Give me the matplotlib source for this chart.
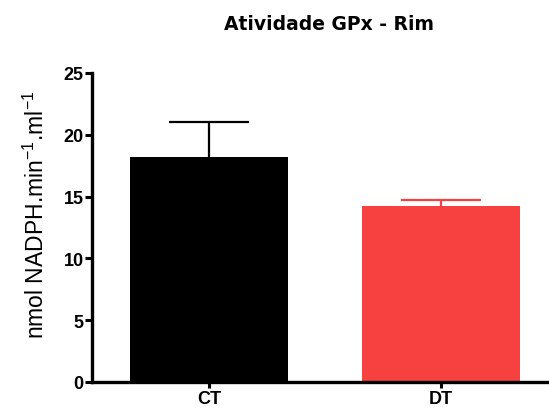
import matplotlib
matplotlib.use("Agg")
import matplotlib.pyplot as plt

categories = ["CT", "DT"]
means = [18.2, 14.2]
errors = [2.8, 0.55]
colors = ["#000000", "#f74040"]
title = "Atividade GPx - Rim"
ylabel = r"nmol NADPH.min$^{\mathregular{-1}}$.ml$^{\mathregular{-1}}$"
yticks = [0, 5, 10, 15, 20, 25]

plt.rcParams['font.family'] = ['Liberation Sans', 'DejaVu Sans']

fig = plt.figure(figsize=(5.49, 4.14), dpi=100)
ax = fig.add_axes([92/549, 1 - 383/414, (549-92)/549, (383-74)/414])

x = list(range(len(categories)))
for xi, m, e, c in zip(x, means, errors, colors):
    ax.bar(xi, m, width=0.68, color=c, zorder=2)
    cont = ax.errorbar(xi, m, yerr=[[0], [e]], fmt='none', ecolor=c,
                       elinewidth=1.6, capsize=28.8, capthick=1.6, zorder=1)
    for cl in cont[1]:
        yd = cl.get_ydata()
        if len(yd) and abs(yd[0] - m) < 1e-9:
            cl.set_visible(False)

ax.set_xlim(-0.504, 1.466)
ax.set_ylim(0, 25)
ax.set_yticks(yticks)
ax.set_yticklabels([str(t) for t in yticks], fontsize=13, fontweight='bold')
ax.set_xticks(x)
ax.set_xticklabels(categories, fontsize=13, fontweight='bold')
ax.tick_params(axis='y', length=5, width=2.2, pad=1)
ax.tick_params(axis='x', length=4, width=2.2, pad=2)
for s in ['top', 'right']:
    ax.spines[s].set_visible(False)
for s in ['left', 'bottom']:
    ax.spines[s].set_linewidth(2.4)
ax.set_ylabel(ylabel, fontsize=16.5, va='center')
ax.yaxis.set_label_coords((36 - 92) / (549 - 92), (383 - 215) / (383 - 74))
fig.text(329/549, 1 - 24/414, title, ha='center', va='center',
         fontsize=13.5, fontweight='bold', family='DejaVu Sans')

fig.savefig("out.png", dpi=100)
